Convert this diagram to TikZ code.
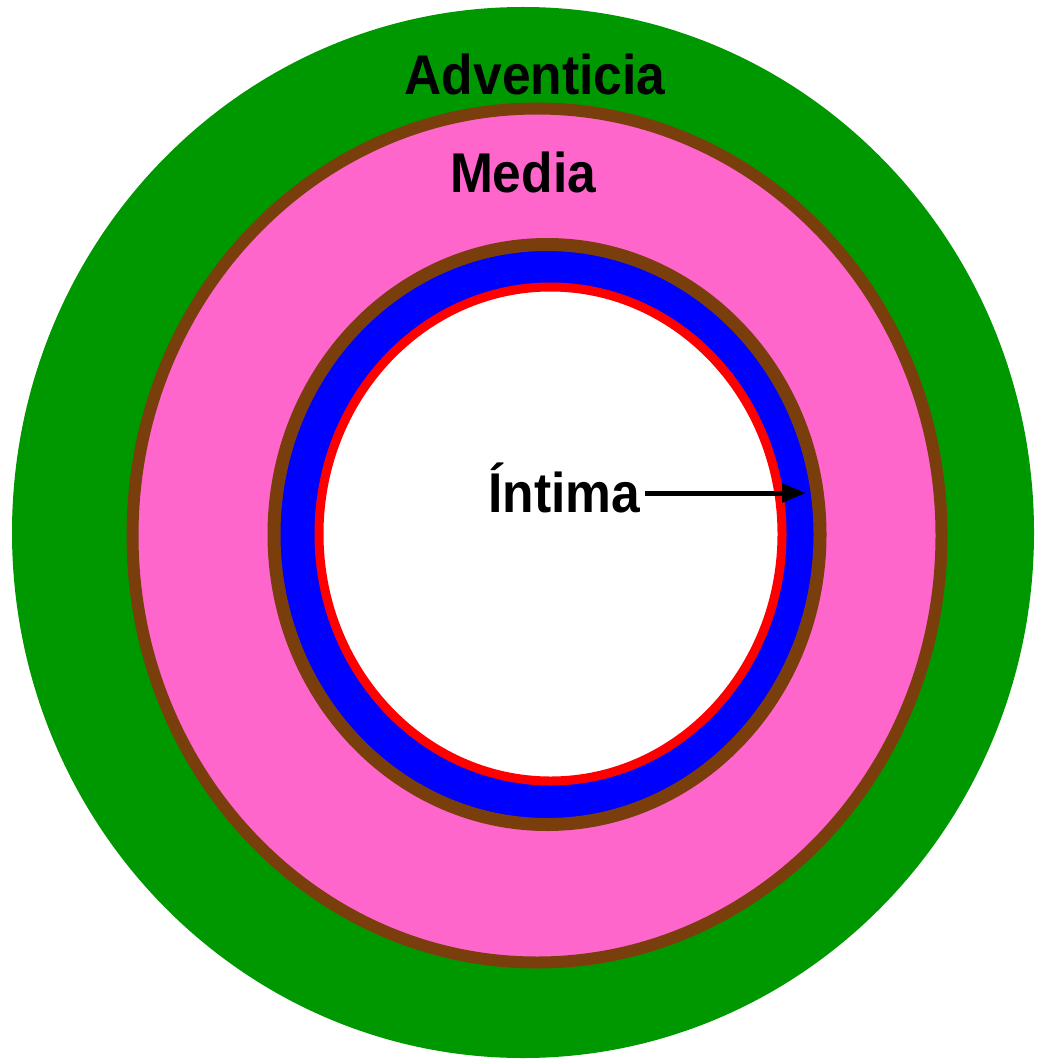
\documentclass[tikz,border=0pt]{standalone}
\usepackage{fontspec}
\setmainfont{Liberation Sans}
\usetikzlibrary{arrows.meta}
\definecolor{advgreen}{RGB}{0,152,0}
\definecolor{medpink}{RGB}{255,102,204}
\definecolor{ringbrown}{RGB}{122,62,12}
\definecolor{intblue}{RGB}{0,0,255}
\definecolor{intred}{RGB}{255,0,0}
\tikzset{
  layerlabel/.style={inner sep=0pt, font=\fontsize{56}{60}\selectfont\bfseries},
  pointer/.style={line width=5pt, -{Triangle[length=24pt,width=18pt]}}
}
\newcommand{\squeezed}[1]{\scalebox{0.92}[1]{#1}}
\begin{document}
\begin{tikzpicture}[x=1pt,y=-1pt]
\useasboundingbox (0,0) rectangle (1036,1059);
% adventicia
\fill[advgreen] (523,532.5) ellipse [x radius=511, y radius=525.5];
% media with brown border
\filldraw[fill=medpink, draw=ringbrown, line width=12pt] (537,535.5) ellipse [x radius=404.5, y radius=427];
% blue band with brown border
\filldraw[fill=intblue, draw=ringbrown, line width=13pt] (547,534.5) ellipse [x radius=273, y radius=290];
% lumen with red intima
\filldraw[fill=white, draw=intred, line width=9pt] (550.5,534) ellipse [x radius=231.5, y radius=247];
% labels
\node[layerlabel, anchor=base] (adv) at (535,95) {\squeezed{Adventicia}};
\node[layerlabel, anchor=base] (med) at (523,193) {\squeezed{Media}};
\node[layerlabel, anchor=base west, inner xsep=5pt] (int) at (483,512) {\squeezed{Íntima}};
\coordinate (tip) at (806,493);
\draw[pointer] (int.east |- tip) -- (tip);
\end{tikzpicture}
\end{document}
